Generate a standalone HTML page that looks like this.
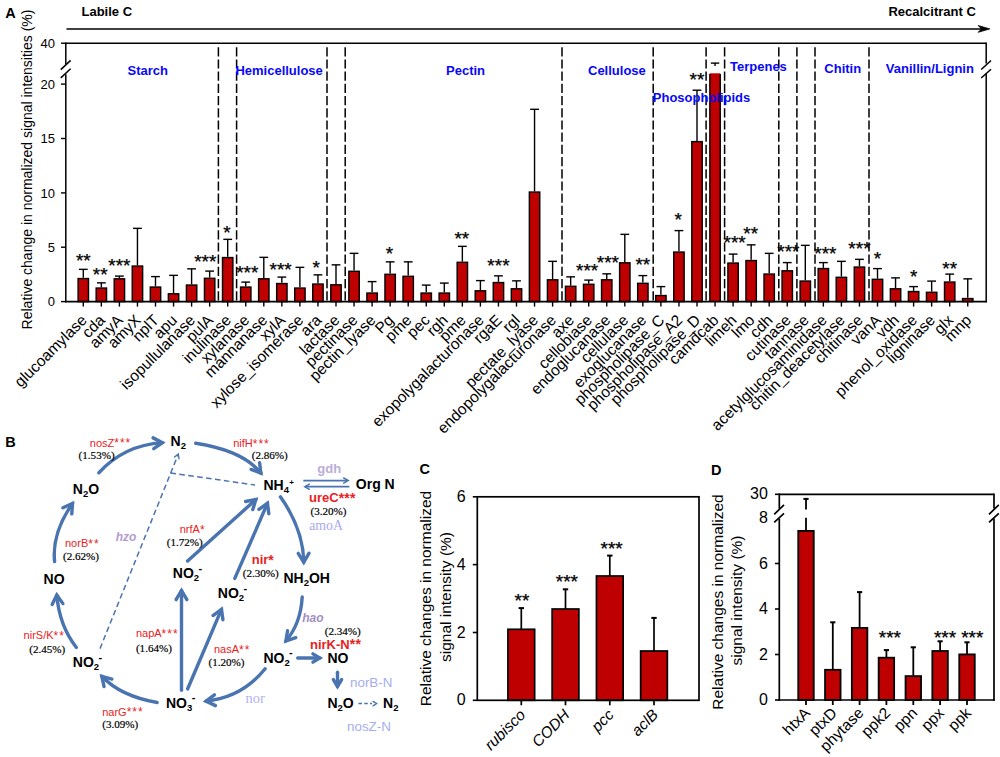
<!DOCTYPE html>
<html><head><meta charset="utf-8"><title>Figure</title>
<style>
html,body{margin:0;padding:0;background:#fff;}
body{width:1000px;height:757px;overflow:hidden;font-family:"Liberation Sans",sans-serif;}
svg{display:block;}
</style></head>
<body>
<svg width="1000" height="757" viewBox="0 0 1000 757" font-family="'Liberation Sans', sans-serif">
<rect width="1000" height="757" fill="#fff"/>
<g id="panelA">
<line x1="66.50" y1="28.90" x2="986.00" y2="28.90" stroke="#000" stroke-width="1.5" />
<path d="M989.8 28.9 L978.2 25.5 L981.4 28.9 L978.2 32.3 Z" fill="#000" stroke="#000" stroke-width="0.8" stroke-linejoin="miter"/>
<text x="81.50" y="15.60" font-size="13" text-anchor="start" font-weight="bold" fill="#000" font-family="'Liberation Sans', sans-serif" font-style="normal" >Labile C</text>
<text x="975.80" y="15.60" font-size="13" text-anchor="end" font-weight="bold" fill="#000" font-family="'Liberation Sans', sans-serif" font-style="normal" >Recalcitrant C</text>
<text x="5.20" y="17.70" font-size="14.5" text-anchor="start" font-weight="bold" fill="#000" font-family="'Liberation Sans', sans-serif" font-style="normal" >A</text>
<line x1="218.40" y1="47.20" x2="218.40" y2="301.60" stroke="#000" stroke-width="1.5" stroke-dasharray="9.2 3"/>
<line x1="236.60" y1="47.20" x2="236.60" y2="301.60" stroke="#000" stroke-width="1.5" stroke-dasharray="9.2 3"/>
<line x1="327.00" y1="47.20" x2="327.00" y2="301.60" stroke="#000" stroke-width="1.5" stroke-dasharray="9.2 3"/>
<line x1="345.20" y1="47.20" x2="345.20" y2="301.60" stroke="#000" stroke-width="1.5" stroke-dasharray="9.2 3"/>
<line x1="562.00" y1="47.20" x2="562.00" y2="301.60" stroke="#000" stroke-width="1.5" stroke-dasharray="9.2 3"/>
<line x1="653.20" y1="47.20" x2="653.20" y2="301.60" stroke="#000" stroke-width="1.5" stroke-dasharray="9.2 3"/>
<line x1="706.10" y1="47.20" x2="706.10" y2="301.60" stroke="#000" stroke-width="1.5" stroke-dasharray="9.2 3"/>
<line x1="724.60" y1="47.20" x2="724.60" y2="301.60" stroke="#000" stroke-width="1.5" stroke-dasharray="9.2 3"/>
<line x1="778.80" y1="47.20" x2="778.80" y2="301.60" stroke="#000" stroke-width="1.5" stroke-dasharray="9.2 3"/>
<line x1="796.90" y1="47.20" x2="796.90" y2="301.60" stroke="#000" stroke-width="1.5" stroke-dasharray="9.2 3"/>
<line x1="815.00" y1="47.20" x2="815.00" y2="301.60" stroke="#000" stroke-width="1.5" stroke-dasharray="9.2 3"/>
<line x1="869.00" y1="47.20" x2="869.00" y2="301.60" stroke="#000" stroke-width="1.5" stroke-dasharray="9.2 3"/>
<line x1="83.30" y1="269.35" x2="83.30" y2="277.85" stroke="#000" stroke-width="1.4" />
<line x1="78.90" y1="269.35" x2="87.70" y2="269.35" stroke="#000" stroke-width="1.4" />
<rect x="78.10" y="278.55" width="10.4" height="23.05" fill="#be0000" stroke="#000" stroke-width="1.4"/>
<line x1="83.30" y1="301.60" x2="83.30" y2="306.60" stroke="#000" stroke-width="1.4" />
<text x="83.30" y="267.03" font-size="19" text-anchor="middle" font-weight="normal" fill="#000" font-family="'Liberation Sans', sans-serif" font-style="normal" stroke="#000" stroke-width="0.25">**</text>
<text x="87.80" y="321.10" font-size="15.5" text-anchor="end" font-weight="normal" fill="#000" font-family="'Liberation Sans', sans-serif" font-style="normal" transform="rotate(-45 87.80 321.10)" >glucoamylase</text>
<line x1="101.35" y1="282.85" x2="101.35" y2="287.35" stroke="#000" stroke-width="1.4" />
<line x1="96.95" y1="282.85" x2="105.75" y2="282.85" stroke="#000" stroke-width="1.4" />
<rect x="96.15" y="288.05" width="10.4" height="13.55" fill="#be0000" stroke="#000" stroke-width="1.4"/>
<line x1="101.35" y1="301.60" x2="101.35" y2="306.60" stroke="#000" stroke-width="1.4" />
<text x="100.15" y="281.28" font-size="19" text-anchor="middle" font-weight="normal" fill="#000" font-family="'Liberation Sans', sans-serif" font-style="normal" stroke="#000" stroke-width="0.25">**</text>
<text x="105.85" y="321.10" font-size="15.5" text-anchor="end" font-weight="normal" fill="#000" font-family="'Liberation Sans', sans-serif" font-style="normal" transform="rotate(-45 105.85 321.10)" >cda</text>
<line x1="119.40" y1="276.10" x2="119.40" y2="278.10" stroke="#000" stroke-width="1.4" />
<line x1="115.00" y1="276.10" x2="123.80" y2="276.10" stroke="#000" stroke-width="1.4" />
<rect x="114.20" y="278.80" width="10.4" height="22.80" fill="#be0000" stroke="#000" stroke-width="1.4"/>
<line x1="119.40" y1="301.60" x2="119.40" y2="306.60" stroke="#000" stroke-width="1.4" />
<text x="119.40" y="272.03" font-size="19" text-anchor="middle" font-weight="normal" fill="#000" font-family="'Liberation Sans', sans-serif" font-style="normal" stroke="#000" stroke-width="0.25">***</text>
<text x="123.90" y="321.10" font-size="15.5" text-anchor="end" font-weight="normal" fill="#000" font-family="'Liberation Sans', sans-serif" font-style="normal" transform="rotate(-45 123.90 321.10)" >amyA</text>
<line x1="137.45" y1="228.35" x2="137.45" y2="265.35" stroke="#000" stroke-width="1.4" />
<line x1="133.05" y1="228.35" x2="141.85" y2="228.35" stroke="#000" stroke-width="1.4" />
<rect x="132.25" y="266.05" width="10.4" height="35.55" fill="#be0000" stroke="#000" stroke-width="1.4"/>
<line x1="137.45" y1="301.60" x2="137.45" y2="306.60" stroke="#000" stroke-width="1.4" />
<text x="141.95" y="321.10" font-size="15.5" text-anchor="end" font-weight="normal" fill="#000" font-family="'Liberation Sans', sans-serif" font-style="normal" transform="rotate(-45 141.95 321.10)" >amyX</text>
<line x1="155.50" y1="276.60" x2="155.50" y2="286.35" stroke="#000" stroke-width="1.4" />
<line x1="151.10" y1="276.60" x2="159.90" y2="276.60" stroke="#000" stroke-width="1.4" />
<rect x="150.30" y="287.05" width="10.4" height="14.55" fill="#be0000" stroke="#000" stroke-width="1.4"/>
<line x1="155.50" y1="301.60" x2="155.50" y2="306.60" stroke="#000" stroke-width="1.4" />
<text x="160.00" y="321.10" font-size="15.5" text-anchor="end" font-weight="normal" fill="#000" font-family="'Liberation Sans', sans-serif" font-style="normal" transform="rotate(-45 160.00 321.10)" >nplT</text>
<line x1="173.55" y1="275.35" x2="173.55" y2="293.10" stroke="#000" stroke-width="1.4" />
<line x1="169.15" y1="275.35" x2="177.95" y2="275.35" stroke="#000" stroke-width="1.4" />
<rect x="168.35" y="293.80" width="10.4" height="7.80" fill="#be0000" stroke="#000" stroke-width="1.4"/>
<line x1="173.55" y1="301.60" x2="173.55" y2="306.60" stroke="#000" stroke-width="1.4" />
<text x="178.05" y="321.10" font-size="15.5" text-anchor="end" font-weight="normal" fill="#000" font-family="'Liberation Sans', sans-serif" font-style="normal" transform="rotate(-45 178.05 321.10)" >apu</text>
<line x1="191.60" y1="268.85" x2="191.60" y2="284.35" stroke="#000" stroke-width="1.4" />
<line x1="187.20" y1="268.85" x2="196.00" y2="268.85" stroke="#000" stroke-width="1.4" />
<rect x="186.40" y="285.05" width="10.4" height="16.55" fill="#be0000" stroke="#000" stroke-width="1.4"/>
<line x1="191.60" y1="301.60" x2="191.60" y2="306.60" stroke="#000" stroke-width="1.4" />
<text x="196.10" y="321.10" font-size="15.5" text-anchor="end" font-weight="normal" fill="#000" font-family="'Liberation Sans', sans-serif" font-style="normal" transform="rotate(-45 196.10 321.10)" >isopullulanase</text>
<line x1="209.65" y1="271.10" x2="209.65" y2="277.60" stroke="#000" stroke-width="1.4" />
<line x1="205.25" y1="271.10" x2="214.05" y2="271.10" stroke="#000" stroke-width="1.4" />
<rect x="204.45" y="278.30" width="10.4" height="23.30" fill="#be0000" stroke="#000" stroke-width="1.4"/>
<line x1="209.65" y1="301.60" x2="209.65" y2="306.60" stroke="#000" stroke-width="1.4" />
<text x="205.25" y="267.78" font-size="19" text-anchor="middle" font-weight="normal" fill="#000" font-family="'Liberation Sans', sans-serif" font-style="normal" stroke="#000" stroke-width="0.25">***</text>
<text x="214.15" y="321.10" font-size="15.5" text-anchor="end" font-weight="normal" fill="#000" font-family="'Liberation Sans', sans-serif" font-style="normal" transform="rotate(-45 214.15 321.10)" >pulA</text>
<line x1="227.70" y1="239.35" x2="227.70" y2="256.85" stroke="#000" stroke-width="1.4" />
<line x1="223.30" y1="239.35" x2="232.10" y2="239.35" stroke="#000" stroke-width="1.4" />
<rect x="222.50" y="257.55" width="10.4" height="44.05" fill="#be0000" stroke="#000" stroke-width="1.4"/>
<line x1="227.70" y1="301.60" x2="227.70" y2="306.60" stroke="#000" stroke-width="1.4" />
<text x="226.90" y="238.78" font-size="19" text-anchor="middle" font-weight="normal" fill="#000" font-family="'Liberation Sans', sans-serif" font-style="normal" stroke="#000" stroke-width="0.25">*</text>
<text x="232.20" y="321.10" font-size="15.5" text-anchor="end" font-weight="normal" fill="#000" font-family="'Liberation Sans', sans-serif" font-style="normal" transform="rotate(-45 232.20 321.10)" >inulinase</text>
<line x1="245.75" y1="282.10" x2="245.75" y2="286.35" stroke="#000" stroke-width="1.4" />
<line x1="241.35" y1="282.10" x2="250.15" y2="282.10" stroke="#000" stroke-width="1.4" />
<rect x="240.55" y="287.05" width="10.4" height="14.55" fill="#be0000" stroke="#000" stroke-width="1.4"/>
<line x1="245.75" y1="301.60" x2="245.75" y2="306.60" stroke="#000" stroke-width="1.4" />
<text x="247.25" y="278.78" font-size="19" text-anchor="middle" font-weight="normal" fill="#000" font-family="'Liberation Sans', sans-serif" font-style="normal" stroke="#000" stroke-width="0.25">***</text>
<text x="250.25" y="321.10" font-size="15.5" text-anchor="end" font-weight="normal" fill="#000" font-family="'Liberation Sans', sans-serif" font-style="normal" transform="rotate(-45 250.25 321.10)" >xylanase</text>
<line x1="263.80" y1="257.35" x2="263.80" y2="278.10" stroke="#000" stroke-width="1.4" />
<line x1="259.40" y1="257.35" x2="268.20" y2="257.35" stroke="#000" stroke-width="1.4" />
<rect x="258.60" y="278.80" width="10.4" height="22.80" fill="#be0000" stroke="#000" stroke-width="1.4"/>
<line x1="263.80" y1="301.60" x2="263.80" y2="306.60" stroke="#000" stroke-width="1.4" />
<text x="268.30" y="321.10" font-size="15.5" text-anchor="end" font-weight="normal" fill="#000" font-family="'Liberation Sans', sans-serif" font-style="normal" transform="rotate(-45 268.30 321.10)" >mannanase</text>
<line x1="281.85" y1="277.10" x2="281.85" y2="282.85" stroke="#000" stroke-width="1.4" />
<line x1="277.45" y1="277.10" x2="286.25" y2="277.10" stroke="#000" stroke-width="1.4" />
<rect x="276.65" y="283.55" width="10.4" height="18.05" fill="#be0000" stroke="#000" stroke-width="1.4"/>
<line x1="281.85" y1="301.60" x2="281.85" y2="306.60" stroke="#000" stroke-width="1.4" />
<text x="280.65" y="276.28" font-size="19" text-anchor="middle" font-weight="normal" fill="#000" font-family="'Liberation Sans', sans-serif" font-style="normal" stroke="#000" stroke-width="0.25">***</text>
<text x="286.35" y="321.10" font-size="15.5" text-anchor="end" font-weight="normal" fill="#000" font-family="'Liberation Sans', sans-serif" font-style="normal" transform="rotate(-45 286.35 321.10)" >xylA</text>
<line x1="299.90" y1="267.35" x2="299.90" y2="287.35" stroke="#000" stroke-width="1.4" />
<line x1="295.50" y1="267.35" x2="304.30" y2="267.35" stroke="#000" stroke-width="1.4" />
<rect x="294.70" y="288.05" width="10.4" height="13.55" fill="#be0000" stroke="#000" stroke-width="1.4"/>
<line x1="299.90" y1="301.60" x2="299.90" y2="306.60" stroke="#000" stroke-width="1.4" />
<text x="304.40" y="321.10" font-size="15.5" text-anchor="end" font-weight="normal" fill="#000" font-family="'Liberation Sans', sans-serif" font-style="normal" transform="rotate(-45 304.40 321.10)" >xylose_isomerase</text>
<line x1="317.95" y1="274.85" x2="317.95" y2="283.35" stroke="#000" stroke-width="1.4" />
<line x1="313.55" y1="274.85" x2="322.35" y2="274.85" stroke="#000" stroke-width="1.4" />
<rect x="312.75" y="284.05" width="10.4" height="17.55" fill="#be0000" stroke="#000" stroke-width="1.4"/>
<line x1="317.95" y1="301.60" x2="317.95" y2="306.60" stroke="#000" stroke-width="1.4" />
<text x="316.15" y="274.03" font-size="19" text-anchor="middle" font-weight="normal" fill="#000" font-family="'Liberation Sans', sans-serif" font-style="normal" stroke="#000" stroke-width="0.25">*</text>
<text x="322.45" y="321.10" font-size="15.5" text-anchor="end" font-weight="normal" fill="#000" font-family="'Liberation Sans', sans-serif" font-style="normal" transform="rotate(-45 322.45 321.10)" >ara</text>
<line x1="336.00" y1="264.85" x2="336.00" y2="284.10" stroke="#000" stroke-width="1.4" />
<line x1="331.60" y1="264.85" x2="340.40" y2="264.85" stroke="#000" stroke-width="1.4" />
<rect x="330.80" y="284.80" width="10.4" height="16.80" fill="#be0000" stroke="#000" stroke-width="1.4"/>
<line x1="336.00" y1="301.60" x2="336.00" y2="306.60" stroke="#000" stroke-width="1.4" />
<text x="340.50" y="321.10" font-size="15.5" text-anchor="end" font-weight="normal" fill="#000" font-family="'Liberation Sans', sans-serif" font-style="normal" transform="rotate(-45 340.50 321.10)" >lactase</text>
<line x1="354.05" y1="253.35" x2="354.05" y2="270.60" stroke="#000" stroke-width="1.4" />
<line x1="349.65" y1="253.35" x2="358.45" y2="253.35" stroke="#000" stroke-width="1.4" />
<rect x="348.85" y="271.30" width="10.4" height="30.30" fill="#be0000" stroke="#000" stroke-width="1.4"/>
<line x1="354.05" y1="301.60" x2="354.05" y2="306.60" stroke="#000" stroke-width="1.4" />
<text x="358.55" y="321.10" font-size="15.5" text-anchor="end" font-weight="normal" fill="#000" font-family="'Liberation Sans', sans-serif" font-style="normal" transform="rotate(-45 358.55 321.10)" >pectinase</text>
<line x1="372.10" y1="281.60" x2="372.10" y2="292.35" stroke="#000" stroke-width="1.4" />
<line x1="367.70" y1="281.60" x2="376.50" y2="281.60" stroke="#000" stroke-width="1.4" />
<rect x="366.90" y="293.05" width="10.4" height="8.55" fill="#be0000" stroke="#000" stroke-width="1.4"/>
<line x1="372.10" y1="301.60" x2="372.10" y2="306.60" stroke="#000" stroke-width="1.4" />
<text x="376.60" y="321.10" font-size="15.5" text-anchor="end" font-weight="normal" fill="#000" font-family="'Liberation Sans', sans-serif" font-style="normal" transform="rotate(-45 376.60 321.10)" >pectin_lyase</text>
<line x1="390.15" y1="261.85" x2="390.15" y2="273.60" stroke="#000" stroke-width="1.4" />
<line x1="385.75" y1="261.85" x2="394.55" y2="261.85" stroke="#000" stroke-width="1.4" />
<rect x="384.95" y="274.30" width="10.4" height="27.30" fill="#be0000" stroke="#000" stroke-width="1.4"/>
<line x1="390.15" y1="301.60" x2="390.15" y2="306.60" stroke="#000" stroke-width="1.4" />
<text x="389.35" y="259.53" font-size="19" text-anchor="middle" font-weight="normal" fill="#000" font-family="'Liberation Sans', sans-serif" font-style="normal" stroke="#000" stroke-width="0.25">*</text>
<text x="394.65" y="321.10" font-size="15.5" text-anchor="end" font-weight="normal" fill="#000" font-family="'Liberation Sans', sans-serif" font-style="normal" transform="rotate(-45 394.65 321.10)" >Pg</text>
<line x1="408.20" y1="261.85" x2="408.20" y2="275.60" stroke="#000" stroke-width="1.4" />
<line x1="403.80" y1="261.85" x2="412.60" y2="261.85" stroke="#000" stroke-width="1.4" />
<rect x="403.00" y="276.30" width="10.4" height="25.30" fill="#be0000" stroke="#000" stroke-width="1.4"/>
<line x1="408.20" y1="301.60" x2="408.20" y2="306.60" stroke="#000" stroke-width="1.4" />
<text x="412.70" y="321.10" font-size="15.5" text-anchor="end" font-weight="normal" fill="#000" font-family="'Liberation Sans', sans-serif" font-style="normal" transform="rotate(-45 412.70 321.10)" >pme</text>
<line x1="426.25" y1="285.10" x2="426.25" y2="292.35" stroke="#000" stroke-width="1.4" />
<line x1="421.85" y1="285.10" x2="430.65" y2="285.10" stroke="#000" stroke-width="1.4" />
<rect x="421.05" y="293.05" width="10.4" height="8.55" fill="#be0000" stroke="#000" stroke-width="1.4"/>
<line x1="426.25" y1="301.60" x2="426.25" y2="306.60" stroke="#000" stroke-width="1.4" />
<text x="430.75" y="321.10" font-size="15.5" text-anchor="end" font-weight="normal" fill="#000" font-family="'Liberation Sans', sans-serif" font-style="normal" transform="rotate(-45 430.75 321.10)" >pec</text>
<line x1="444.30" y1="283.10" x2="444.30" y2="292.35" stroke="#000" stroke-width="1.4" />
<line x1="439.90" y1="283.10" x2="448.70" y2="283.10" stroke="#000" stroke-width="1.4" />
<rect x="439.10" y="293.05" width="10.4" height="8.55" fill="#be0000" stroke="#000" stroke-width="1.4"/>
<line x1="444.30" y1="301.60" x2="444.30" y2="306.60" stroke="#000" stroke-width="1.4" />
<text x="448.80" y="321.10" font-size="15.5" text-anchor="end" font-weight="normal" fill="#000" font-family="'Liberation Sans', sans-serif" font-style="normal" transform="rotate(-45 448.80 321.10)" >rgh</text>
<line x1="462.35" y1="246.35" x2="462.35" y2="261.60" stroke="#000" stroke-width="1.4" />
<line x1="457.95" y1="246.35" x2="466.75" y2="246.35" stroke="#000" stroke-width="1.4" />
<rect x="457.15" y="262.30" width="10.4" height="39.30" fill="#be0000" stroke="#000" stroke-width="1.4"/>
<line x1="462.35" y1="301.60" x2="462.35" y2="306.60" stroke="#000" stroke-width="1.4" />
<text x="461.85" y="244.53" font-size="19" text-anchor="middle" font-weight="normal" fill="#000" font-family="'Liberation Sans', sans-serif" font-style="normal" stroke="#000" stroke-width="0.25">**</text>
<text x="466.85" y="321.10" font-size="15.5" text-anchor="end" font-weight="normal" fill="#000" font-family="'Liberation Sans', sans-serif" font-style="normal" transform="rotate(-45 466.85 321.10)" >pme</text>
<line x1="480.40" y1="280.60" x2="480.40" y2="290.10" stroke="#000" stroke-width="1.4" />
<line x1="476.00" y1="280.60" x2="484.80" y2="280.60" stroke="#000" stroke-width="1.4" />
<rect x="475.20" y="290.80" width="10.4" height="10.80" fill="#be0000" stroke="#000" stroke-width="1.4"/>
<line x1="480.40" y1="301.60" x2="480.40" y2="306.60" stroke="#000" stroke-width="1.4" />
<text x="484.90" y="321.10" font-size="15.5" text-anchor="end" font-weight="normal" fill="#000" font-family="'Liberation Sans', sans-serif" font-style="normal" transform="rotate(-45 484.90 321.10)" >exopolygalacturonase</text>
<line x1="498.45" y1="275.85" x2="498.45" y2="281.85" stroke="#000" stroke-width="1.4" />
<line x1="494.05" y1="275.85" x2="502.85" y2="275.85" stroke="#000" stroke-width="1.4" />
<rect x="493.25" y="282.55" width="10.4" height="19.05" fill="#be0000" stroke="#000" stroke-width="1.4"/>
<line x1="498.45" y1="301.60" x2="498.45" y2="306.60" stroke="#000" stroke-width="1.4" />
<text x="498.45" y="271.53" font-size="19" text-anchor="middle" font-weight="normal" fill="#000" font-family="'Liberation Sans', sans-serif" font-style="normal" stroke="#000" stroke-width="0.25">***</text>
<text x="502.95" y="321.10" font-size="15.5" text-anchor="end" font-weight="normal" fill="#000" font-family="'Liberation Sans', sans-serif" font-style="normal" transform="rotate(-45 502.95 321.10)" >rgaE</text>
<line x1="516.50" y1="280.85" x2="516.50" y2="288.10" stroke="#000" stroke-width="1.4" />
<line x1="512.10" y1="280.85" x2="520.90" y2="280.85" stroke="#000" stroke-width="1.4" />
<rect x="511.30" y="288.80" width="10.4" height="12.80" fill="#be0000" stroke="#000" stroke-width="1.4"/>
<line x1="516.50" y1="301.60" x2="516.50" y2="306.60" stroke="#000" stroke-width="1.4" />
<text x="521.00" y="321.10" font-size="15.5" text-anchor="end" font-weight="normal" fill="#000" font-family="'Liberation Sans', sans-serif" font-style="normal" transform="rotate(-45 521.00 321.10)" >rgl</text>
<line x1="534.55" y1="109.30" x2="534.55" y2="191.35" stroke="#000" stroke-width="1.4" />
<line x1="530.15" y1="109.30" x2="538.95" y2="109.30" stroke="#000" stroke-width="1.4" />
<rect x="529.35" y="192.05" width="10.4" height="109.55" fill="#be0000" stroke="#000" stroke-width="1.4"/>
<line x1="534.55" y1="301.60" x2="534.55" y2="306.60" stroke="#000" stroke-width="1.4" />
<text x="539.05" y="321.10" font-size="15.5" text-anchor="end" font-weight="normal" fill="#000" font-family="'Liberation Sans', sans-serif" font-style="normal" transform="rotate(-45 539.05 321.10)" >pectate_lyase</text>
<line x1="552.60" y1="261.35" x2="552.60" y2="279.10" stroke="#000" stroke-width="1.4" />
<line x1="548.20" y1="261.35" x2="557.00" y2="261.35" stroke="#000" stroke-width="1.4" />
<rect x="547.40" y="279.80" width="10.4" height="21.80" fill="#be0000" stroke="#000" stroke-width="1.4"/>
<line x1="552.60" y1="301.60" x2="552.60" y2="306.60" stroke="#000" stroke-width="1.4" />
<text x="557.10" y="321.10" font-size="15.5" text-anchor="end" font-weight="normal" fill="#000" font-family="'Liberation Sans', sans-serif" font-style="normal" transform="rotate(-45 557.10 321.10)" >endopolygalacturonase</text>
<line x1="570.65" y1="276.85" x2="570.65" y2="285.60" stroke="#000" stroke-width="1.4" />
<line x1="566.25" y1="276.85" x2="575.05" y2="276.85" stroke="#000" stroke-width="1.4" />
<rect x="565.45" y="286.30" width="10.4" height="15.30" fill="#be0000" stroke="#000" stroke-width="1.4"/>
<line x1="570.65" y1="301.60" x2="570.65" y2="306.60" stroke="#000" stroke-width="1.4" />
<text x="575.15" y="321.10" font-size="15.5" text-anchor="end" font-weight="normal" fill="#000" font-family="'Liberation Sans', sans-serif" font-style="normal" transform="rotate(-45 575.15 321.10)" >axe</text>
<line x1="588.70" y1="280.10" x2="588.70" y2="283.60" stroke="#000" stroke-width="1.4" />
<line x1="584.30" y1="280.10" x2="593.10" y2="280.10" stroke="#000" stroke-width="1.4" />
<rect x="583.50" y="284.30" width="10.4" height="17.30" fill="#be0000" stroke="#000" stroke-width="1.4"/>
<line x1="588.70" y1="301.60" x2="588.70" y2="306.60" stroke="#000" stroke-width="1.4" />
<text x="587.10" y="277.03" font-size="19" text-anchor="middle" font-weight="normal" fill="#000" font-family="'Liberation Sans', sans-serif" font-style="normal" stroke="#000" stroke-width="0.25">***</text>
<text x="593.20" y="321.10" font-size="15.5" text-anchor="end" font-weight="normal" fill="#000" font-family="'Liberation Sans', sans-serif" font-style="normal" transform="rotate(-45 593.20 321.10)" >cellobiase</text>
<line x1="606.75" y1="273.85" x2="606.75" y2="279.10" stroke="#000" stroke-width="1.4" />
<line x1="602.35" y1="273.85" x2="611.15" y2="273.85" stroke="#000" stroke-width="1.4" />
<rect x="601.55" y="279.80" width="10.4" height="21.80" fill="#be0000" stroke="#000" stroke-width="1.4"/>
<line x1="606.75" y1="301.60" x2="606.75" y2="306.60" stroke="#000" stroke-width="1.4" />
<text x="607.85" y="268.78" font-size="19" text-anchor="middle" font-weight="normal" fill="#000" font-family="'Liberation Sans', sans-serif" font-style="normal" stroke="#000" stroke-width="0.25">***</text>
<text x="611.25" y="321.10" font-size="15.5" text-anchor="end" font-weight="normal" fill="#000" font-family="'Liberation Sans', sans-serif" font-style="normal" transform="rotate(-45 611.25 321.10)" >endoglucanase</text>
<line x1="624.80" y1="234.35" x2="624.80" y2="262.10" stroke="#000" stroke-width="1.4" />
<line x1="620.40" y1="234.35" x2="629.20" y2="234.35" stroke="#000" stroke-width="1.4" />
<rect x="619.60" y="262.80" width="10.4" height="38.80" fill="#be0000" stroke="#000" stroke-width="1.4"/>
<line x1="624.80" y1="301.60" x2="624.80" y2="306.60" stroke="#000" stroke-width="1.4" />
<text x="629.30" y="321.10" font-size="15.5" text-anchor="end" font-weight="normal" fill="#000" font-family="'Liberation Sans', sans-serif" font-style="normal" transform="rotate(-45 629.30 321.10)" >cellulase</text>
<line x1="642.85" y1="275.60" x2="642.85" y2="282.60" stroke="#000" stroke-width="1.4" />
<line x1="638.45" y1="275.60" x2="647.25" y2="275.60" stroke="#000" stroke-width="1.4" />
<rect x="637.65" y="283.30" width="10.4" height="18.30" fill="#be0000" stroke="#000" stroke-width="1.4"/>
<line x1="642.85" y1="301.60" x2="642.85" y2="306.60" stroke="#000" stroke-width="1.4" />
<text x="642.85" y="270.53" font-size="19" text-anchor="middle" font-weight="normal" fill="#000" font-family="'Liberation Sans', sans-serif" font-style="normal" stroke="#000" stroke-width="0.25">**</text>
<text x="647.35" y="321.10" font-size="15.5" text-anchor="end" font-weight="normal" fill="#000" font-family="'Liberation Sans', sans-serif" font-style="normal" transform="rotate(-45 647.35 321.10)" >exoglucanase</text>
<line x1="660.90" y1="286.60" x2="660.90" y2="294.85" stroke="#000" stroke-width="1.4" />
<line x1="656.50" y1="286.60" x2="665.30" y2="286.60" stroke="#000" stroke-width="1.4" />
<rect x="655.70" y="295.55" width="10.4" height="6.05" fill="#be0000" stroke="#000" stroke-width="1.4"/>
<line x1="660.90" y1="301.60" x2="660.90" y2="306.60" stroke="#000" stroke-width="1.4" />
<text x="665.40" y="321.10" font-size="15.5" text-anchor="end" font-weight="normal" fill="#000" font-family="'Liberation Sans', sans-serif" font-style="normal" transform="rotate(-45 665.40 321.10)" >phospholipase_C</text>
<line x1="678.95" y1="230.60" x2="678.95" y2="251.35" stroke="#000" stroke-width="1.4" />
<line x1="674.55" y1="230.60" x2="683.35" y2="230.60" stroke="#000" stroke-width="1.4" />
<rect x="673.75" y="252.05" width="10.4" height="49.55" fill="#be0000" stroke="#000" stroke-width="1.4"/>
<line x1="678.95" y1="301.60" x2="678.95" y2="306.60" stroke="#000" stroke-width="1.4" />
<text x="678.15" y="226.03" font-size="19" text-anchor="middle" font-weight="normal" fill="#000" font-family="'Liberation Sans', sans-serif" font-style="normal" stroke="#000" stroke-width="0.25">*</text>
<text x="683.45" y="321.10" font-size="15.5" text-anchor="end" font-weight="normal" fill="#000" font-family="'Liberation Sans', sans-serif" font-style="normal" transform="rotate(-45 683.45 321.10)" >phospholipase_A2</text>
<line x1="697.00" y1="90.20" x2="697.00" y2="140.90" stroke="#000" stroke-width="1.4" />
<line x1="692.60" y1="90.20" x2="701.40" y2="90.20" stroke="#000" stroke-width="1.4" />
<rect x="691.80" y="141.60" width="10.4" height="160.00" fill="#be0000" stroke="#000" stroke-width="1.4"/>
<line x1="697.00" y1="301.60" x2="697.00" y2="306.60" stroke="#000" stroke-width="1.4" />
<text x="697.00" y="86.03" font-size="19" text-anchor="middle" font-weight="normal" fill="#000" font-family="'Liberation Sans', sans-serif" font-style="normal" stroke="#000" stroke-width="0.25">**</text>
<text x="701.50" y="321.10" font-size="15.5" text-anchor="end" font-weight="normal" fill="#000" font-family="'Liberation Sans', sans-serif" font-style="normal" transform="rotate(-45 701.50 321.10)" >phospholipase_D</text>
<line x1="715.05" y1="63.10" x2="715.05" y2="66.10" stroke="#000" stroke-width="1.4" />
<line x1="710.85" y1="63.10" x2="719.25" y2="63.10" stroke="#000" stroke-width="1.4" />
<rect x="709.85" y="73.30" width="10.4" height="228.30" fill="#be0000"/>
<line x1="709.85" y1="73.90" x2="709.85" y2="301.60" stroke="#000" stroke-width="1.4" />
<line x1="720.25" y1="73.90" x2="720.25" y2="301.60" stroke="#000" stroke-width="1.4" />
<line x1="715.05" y1="301.60" x2="715.05" y2="306.60" stroke="#000" stroke-width="1.4" />
<text x="719.55" y="321.10" font-size="15.5" text-anchor="end" font-weight="normal" fill="#000" font-family="'Liberation Sans', sans-serif" font-style="normal" transform="rotate(-45 719.55 321.10)" >camdcab</text>
<line x1="733.10" y1="254.10" x2="733.10" y2="262.35" stroke="#000" stroke-width="1.4" />
<line x1="728.70" y1="254.10" x2="737.50" y2="254.10" stroke="#000" stroke-width="1.4" />
<rect x="727.90" y="263.05" width="10.4" height="38.55" fill="#be0000" stroke="#000" stroke-width="1.4"/>
<line x1="733.10" y1="301.60" x2="733.10" y2="306.60" stroke="#000" stroke-width="1.4" />
<text x="734.60" y="248.78" font-size="19" text-anchor="middle" font-weight="normal" fill="#000" font-family="'Liberation Sans', sans-serif" font-style="normal" stroke="#000" stroke-width="0.25">***</text>
<text x="737.60" y="321.10" font-size="15.5" text-anchor="end" font-weight="normal" fill="#000" font-family="'Liberation Sans', sans-serif" font-style="normal" transform="rotate(-45 737.60 321.10)" >limeh</text>
<line x1="751.15" y1="244.85" x2="751.15" y2="259.85" stroke="#000" stroke-width="1.4" />
<line x1="746.75" y1="244.85" x2="755.55" y2="244.85" stroke="#000" stroke-width="1.4" />
<rect x="745.95" y="260.55" width="10.4" height="41.05" fill="#be0000" stroke="#000" stroke-width="1.4"/>
<line x1="751.15" y1="301.60" x2="751.15" y2="306.60" stroke="#000" stroke-width="1.4" />
<text x="750.65" y="239.53" font-size="19" text-anchor="middle" font-weight="normal" fill="#000" font-family="'Liberation Sans', sans-serif" font-style="normal" stroke="#000" stroke-width="0.25">**</text>
<text x="755.65" y="321.10" font-size="15.5" text-anchor="end" font-weight="normal" fill="#000" font-family="'Liberation Sans', sans-serif" font-style="normal" transform="rotate(-45 755.65 321.10)" >lmo</text>
<line x1="769.20" y1="253.35" x2="769.20" y2="273.35" stroke="#000" stroke-width="1.4" />
<line x1="764.80" y1="253.35" x2="773.60" y2="253.35" stroke="#000" stroke-width="1.4" />
<rect x="764.00" y="274.05" width="10.4" height="27.55" fill="#be0000" stroke="#000" stroke-width="1.4"/>
<line x1="769.20" y1="301.60" x2="769.20" y2="306.60" stroke="#000" stroke-width="1.4" />
<text x="773.70" y="321.10" font-size="15.5" text-anchor="end" font-weight="normal" fill="#000" font-family="'Liberation Sans', sans-serif" font-style="normal" transform="rotate(-45 773.70 321.10)" >cdh</text>
<line x1="787.25" y1="262.60" x2="787.25" y2="270.10" stroke="#000" stroke-width="1.4" />
<line x1="782.85" y1="262.60" x2="791.65" y2="262.60" stroke="#000" stroke-width="1.4" />
<rect x="782.05" y="270.80" width="10.4" height="30.80" fill="#be0000" stroke="#000" stroke-width="1.4"/>
<line x1="787.25" y1="301.60" x2="787.25" y2="306.60" stroke="#000" stroke-width="1.4" />
<text x="788.35" y="258.28" font-size="19" text-anchor="middle" font-weight="normal" fill="#000" font-family="'Liberation Sans', sans-serif" font-style="normal" stroke="#000" stroke-width="0.25">***</text>
<text x="791.75" y="321.10" font-size="15.5" text-anchor="end" font-weight="normal" fill="#000" font-family="'Liberation Sans', sans-serif" font-style="normal" transform="rotate(-45 791.75 321.10)" >cutinase</text>
<line x1="805.30" y1="245.35" x2="805.30" y2="280.35" stroke="#000" stroke-width="1.4" />
<line x1="800.90" y1="245.35" x2="809.70" y2="245.35" stroke="#000" stroke-width="1.4" />
<rect x="800.10" y="281.05" width="10.4" height="20.55" fill="#be0000" stroke="#000" stroke-width="1.4"/>
<line x1="805.30" y1="301.60" x2="805.30" y2="306.60" stroke="#000" stroke-width="1.4" />
<text x="809.80" y="321.10" font-size="15.5" text-anchor="end" font-weight="normal" fill="#000" font-family="'Liberation Sans', sans-serif" font-style="normal" transform="rotate(-45 809.80 321.10)" >tannase</text>
<line x1="823.35" y1="262.60" x2="823.35" y2="267.85" stroke="#000" stroke-width="1.4" />
<line x1="818.95" y1="262.60" x2="827.75" y2="262.60" stroke="#000" stroke-width="1.4" />
<rect x="818.15" y="268.55" width="10.4" height="33.05" fill="#be0000" stroke="#000" stroke-width="1.4"/>
<line x1="823.35" y1="301.60" x2="823.35" y2="306.60" stroke="#000" stroke-width="1.4" />
<text x="825.35" y="259.53" font-size="19" text-anchor="middle" font-weight="normal" fill="#000" font-family="'Liberation Sans', sans-serif" font-style="normal" stroke="#000" stroke-width="0.25">***</text>
<text x="827.85" y="321.10" font-size="15.5" text-anchor="end" font-weight="normal" fill="#000" font-family="'Liberation Sans', sans-serif" font-style="normal" transform="rotate(-45 827.85 321.10)" >acetylglucosaminidase</text>
<line x1="841.40" y1="261.35" x2="841.40" y2="276.60" stroke="#000" stroke-width="1.4" />
<line x1="837.00" y1="261.35" x2="845.80" y2="261.35" stroke="#000" stroke-width="1.4" />
<rect x="836.20" y="277.30" width="10.4" height="24.30" fill="#be0000" stroke="#000" stroke-width="1.4"/>
<line x1="841.40" y1="301.60" x2="841.40" y2="306.60" stroke="#000" stroke-width="1.4" />
<text x="845.90" y="321.10" font-size="15.5" text-anchor="end" font-weight="normal" fill="#000" font-family="'Liberation Sans', sans-serif" font-style="normal" transform="rotate(-45 845.90 321.10)" >chitin_deacetylase</text>
<line x1="859.45" y1="259.35" x2="859.45" y2="266.35" stroke="#000" stroke-width="1.4" />
<line x1="855.05" y1="259.35" x2="863.85" y2="259.35" stroke="#000" stroke-width="1.4" />
<rect x="854.25" y="267.05" width="10.4" height="34.55" fill="#be0000" stroke="#000" stroke-width="1.4"/>
<line x1="859.45" y1="301.60" x2="859.45" y2="306.60" stroke="#000" stroke-width="1.4" />
<text x="859.45" y="255.28" font-size="19" text-anchor="middle" font-weight="normal" fill="#000" font-family="'Liberation Sans', sans-serif" font-style="normal" stroke="#000" stroke-width="0.25">***</text>
<text x="863.95" y="321.10" font-size="15.5" text-anchor="end" font-weight="normal" fill="#000" font-family="'Liberation Sans', sans-serif" font-style="normal" transform="rotate(-45 863.95 321.10)" >chitinase</text>
<line x1="877.50" y1="268.60" x2="877.50" y2="278.60" stroke="#000" stroke-width="1.4" />
<line x1="873.10" y1="268.60" x2="881.90" y2="268.60" stroke="#000" stroke-width="1.4" />
<rect x="872.30" y="279.30" width="10.4" height="22.30" fill="#be0000" stroke="#000" stroke-width="1.4"/>
<line x1="877.50" y1="301.60" x2="877.50" y2="306.60" stroke="#000" stroke-width="1.4" />
<text x="877.50" y="264.53" font-size="19" text-anchor="middle" font-weight="normal" fill="#000" font-family="'Liberation Sans', sans-serif" font-style="normal" stroke="#000" stroke-width="0.25">*</text>
<text x="882.00" y="321.10" font-size="15.5" text-anchor="end" font-weight="normal" fill="#000" font-family="'Liberation Sans', sans-serif" font-style="normal" transform="rotate(-45 882.00 321.10)" >vanA</text>
<line x1="895.55" y1="277.85" x2="895.55" y2="288.10" stroke="#000" stroke-width="1.4" />
<line x1="891.15" y1="277.85" x2="899.95" y2="277.85" stroke="#000" stroke-width="1.4" />
<rect x="890.35" y="288.80" width="10.4" height="12.80" fill="#be0000" stroke="#000" stroke-width="1.4"/>
<line x1="895.55" y1="301.60" x2="895.55" y2="306.60" stroke="#000" stroke-width="1.4" />
<text x="900.05" y="321.10" font-size="15.5" text-anchor="end" font-weight="normal" fill="#000" font-family="'Liberation Sans', sans-serif" font-style="normal" transform="rotate(-45 900.05 321.10)" >vdh</text>
<line x1="913.60" y1="286.60" x2="913.60" y2="290.85" stroke="#000" stroke-width="1.4" />
<line x1="909.20" y1="286.60" x2="918.00" y2="286.60" stroke="#000" stroke-width="1.4" />
<rect x="908.40" y="291.55" width="10.4" height="10.05" fill="#be0000" stroke="#000" stroke-width="1.4"/>
<line x1="913.60" y1="301.60" x2="913.60" y2="306.60" stroke="#000" stroke-width="1.4" />
<text x="913.60" y="282.53" font-size="19" text-anchor="middle" font-weight="normal" fill="#000" font-family="'Liberation Sans', sans-serif" font-style="normal" stroke="#000" stroke-width="0.25">*</text>
<text x="918.10" y="321.10" font-size="15.5" text-anchor="end" font-weight="normal" fill="#000" font-family="'Liberation Sans', sans-serif" font-style="normal" transform="rotate(-45 918.10 321.10)" >phenol_oxidase</text>
<line x1="931.65" y1="281.10" x2="931.65" y2="291.60" stroke="#000" stroke-width="1.4" />
<line x1="927.25" y1="281.10" x2="936.05" y2="281.10" stroke="#000" stroke-width="1.4" />
<rect x="926.45" y="292.30" width="10.4" height="9.30" fill="#be0000" stroke="#000" stroke-width="1.4"/>
<line x1="931.65" y1="301.60" x2="931.65" y2="306.60" stroke="#000" stroke-width="1.4" />
<text x="936.15" y="321.10" font-size="15.5" text-anchor="end" font-weight="normal" fill="#000" font-family="'Liberation Sans', sans-serif" font-style="normal" transform="rotate(-45 936.15 321.10)" >ligninase</text>
<line x1="949.70" y1="274.10" x2="949.70" y2="281.35" stroke="#000" stroke-width="1.4" />
<line x1="945.30" y1="274.10" x2="954.10" y2="274.10" stroke="#000" stroke-width="1.4" />
<rect x="944.50" y="282.05" width="10.4" height="19.55" fill="#be0000" stroke="#000" stroke-width="1.4"/>
<line x1="949.70" y1="301.60" x2="949.70" y2="306.60" stroke="#000" stroke-width="1.4" />
<text x="949.70" y="274.53" font-size="19" text-anchor="middle" font-weight="normal" fill="#000" font-family="'Liberation Sans', sans-serif" font-style="normal" stroke="#000" stroke-width="0.25">**</text>
<text x="954.20" y="321.10" font-size="15.5" text-anchor="end" font-weight="normal" fill="#000" font-family="'Liberation Sans', sans-serif" font-style="normal" transform="rotate(-45 954.20 321.10)" >glx</text>
<line x1="967.75" y1="278.85" x2="967.75" y2="297.85" stroke="#000" stroke-width="1.4" />
<line x1="963.35" y1="278.85" x2="972.15" y2="278.85" stroke="#000" stroke-width="1.4" />
<rect x="962.55" y="298.55" width="10.4" height="3.05" fill="#be0000" stroke="#000" stroke-width="1.4"/>
<line x1="967.75" y1="301.60" x2="967.75" y2="306.60" stroke="#000" stroke-width="1.4" />
<text x="972.25" y="321.10" font-size="15.5" text-anchor="end" font-weight="normal" fill="#000" font-family="'Liberation Sans', sans-serif" font-style="normal" transform="rotate(-45 972.25 321.10)" >mnp</text>
<line x1="65.80" y1="43.20" x2="986.20" y2="43.20" stroke="#000" stroke-width="1.5" />
<line x1="65.80" y1="42.45" x2="65.80" y2="64.20" stroke="#000" stroke-width="1.5" />
<line x1="65.80" y1="74.30" x2="65.80" y2="302.35" stroke="#000" stroke-width="1.5" />
<line x1="986.20" y1="42.45" x2="986.20" y2="63.50" stroke="#000" stroke-width="1.5" />
<line x1="986.20" y1="73.50" x2="986.20" y2="302.35" stroke="#000" stroke-width="1.5" />
<line x1="65.05" y1="301.60" x2="986.95" y2="301.60" stroke="#000" stroke-width="1.6" />
<line x1="60.80" y1="69.60" x2="70.60" y2="60.40" stroke="#000" stroke-width="1.5" />
<line x1="60.80" y1="77.90" x2="70.60" y2="68.70" stroke="#000" stroke-width="1.5" />
<line x1="981.20" y1="69.50" x2="991.00" y2="60.50" stroke="#000" stroke-width="1.5" />
<line x1="981.20" y1="78.00" x2="991.00" y2="69.20" stroke="#000" stroke-width="1.5" />
<line x1="61.00" y1="43.20" x2="65.80" y2="43.20" stroke="#000" stroke-width="1.4" />
<text x="55.00" y="47.80" font-size="13" text-anchor="end" font-weight="normal" fill="#000" font-family="'Liberation Sans', sans-serif" font-style="normal" >40</text>
<line x1="61.00" y1="84.10" x2="65.80" y2="84.10" stroke="#000" stroke-width="1.4" />
<text x="55.00" y="88.70" font-size="13" text-anchor="end" font-weight="normal" fill="#000" font-family="'Liberation Sans', sans-serif" font-style="normal" >20</text>
<line x1="61.00" y1="138.50" x2="65.80" y2="138.50" stroke="#000" stroke-width="1.4" />
<text x="55.00" y="143.10" font-size="13" text-anchor="end" font-weight="normal" fill="#000" font-family="'Liberation Sans', sans-serif" font-style="normal" >15</text>
<line x1="61.00" y1="192.90" x2="65.80" y2="192.90" stroke="#000" stroke-width="1.4" />
<text x="55.00" y="197.50" font-size="13" text-anchor="end" font-weight="normal" fill="#000" font-family="'Liberation Sans', sans-serif" font-style="normal" >10</text>
<line x1="61.00" y1="247.20" x2="65.80" y2="247.20" stroke="#000" stroke-width="1.4" />
<text x="55.00" y="251.80" font-size="13" text-anchor="end" font-weight="normal" fill="#000" font-family="'Liberation Sans', sans-serif" font-style="normal" >5</text>
<line x1="61.00" y1="301.60" x2="65.80" y2="301.60" stroke="#000" stroke-width="1.4" />
<text x="55.00" y="306.20" font-size="13" text-anchor="end" font-weight="normal" fill="#000" font-family="'Liberation Sans', sans-serif" font-style="normal" >0</text>
<text x="31.60" y="329.40" font-size="14" text-anchor="start" font-weight="normal" fill="#000" font-family="'Liberation Sans', sans-serif" font-style="normal" transform="rotate(-90 31.60 329.40)" >Relative change in normalized signal intensities (%)</text>
<text x="127.50" y="74.80" font-size="13" text-anchor="start" font-weight="bold" fill="#0808f6" font-family="'Liberation Sans', sans-serif" font-style="normal" >Starch</text>
<text x="235.40" y="75.20" font-size="13" text-anchor="start" font-weight="bold" fill="#0808f6" font-family="'Liberation Sans', sans-serif" font-style="normal" >Hemicellulose</text>
<text x="446.00" y="75.20" font-size="13" text-anchor="start" font-weight="bold" fill="#0808f6" font-family="'Liberation Sans', sans-serif" font-style="normal" >Pectin</text>
<text x="588.00" y="74.60" font-size="13" text-anchor="start" font-weight="bold" fill="#0808f6" font-family="'Liberation Sans', sans-serif" font-style="normal" >Cellulose</text>
<text x="730.00" y="70.80" font-size="13" text-anchor="start" font-weight="bold" fill="#0808f6" font-family="'Liberation Sans', sans-serif" font-style="normal" >Terpenes</text>
<text x="824.30" y="73.20" font-size="13" text-anchor="start" font-weight="bold" fill="#0808f6" font-family="'Liberation Sans', sans-serif" font-style="normal" >Chitin</text>
<text x="885.80" y="73.20" font-size="13" text-anchor="start" font-weight="bold" fill="#0808f6" font-family="'Liberation Sans', sans-serif" font-style="normal" >Vanillin/Lignin</text>
<text x="652.80" y="101.80" font-size="13" text-anchor="start" font-weight="bold" fill="#0808f6" font-family="'Liberation Sans', sans-serif" font-style="normal" >Phosopholipids</text>
</g>
<g id="panelC">
<text x="419.40" y="474.20" font-size="14.5" text-anchor="start" font-weight="bold" fill="#000" font-family="'Liberation Sans', sans-serif" font-style="normal" >C</text>
<line x1="521.30" y1="607.80" x2="521.30" y2="629.30" stroke="#000" stroke-width="1.7" />
<line x1="518.60" y1="608.10" x2="524.00" y2="608.10" stroke="#000" stroke-width="2.0" />
<rect x="507.95" y="629.30" width="26.7" height="71.00" fill="#be0000" stroke="#000" stroke-width="1.7"/>
<line x1="521.30" y1="700.30" x2="521.30" y2="705.30" stroke="#000" stroke-width="1.7" />
<text x="521.90" y="606.53" font-size="19" text-anchor="middle" font-weight="normal" fill="#000" font-family="'Liberation Sans', sans-serif" font-style="normal" stroke="#000" stroke-width="0.25">**</text>
<text x="526.30" y="715.80" font-size="15.5" text-anchor="end" font-weight="normal" fill="#000" font-family="'Liberation Sans', sans-serif" font-style="italic" transform="rotate(-45 526.30 715.80)" >rubisco</text>
<line x1="565.50" y1="589.00" x2="565.50" y2="609.00" stroke="#000" stroke-width="1.7" />
<line x1="562.80" y1="589.30" x2="568.20" y2="589.30" stroke="#000" stroke-width="2.0" />
<rect x="552.15" y="609.00" width="26.7" height="91.30" fill="#be0000" stroke="#000" stroke-width="1.7"/>
<line x1="565.50" y1="700.30" x2="565.50" y2="705.30" stroke="#000" stroke-width="1.7" />
<text x="566.90" y="588.33" font-size="19" text-anchor="middle" font-weight="normal" fill="#000" font-family="'Liberation Sans', sans-serif" font-style="normal" stroke="#000" stroke-width="0.25">***</text>
<text x="570.50" y="715.80" font-size="15.5" text-anchor="end" font-weight="normal" fill="#000" font-family="'Liberation Sans', sans-serif" font-style="italic" transform="rotate(-45 570.50 715.80)" >CODH</text>
<line x1="609.80" y1="555.30" x2="609.80" y2="576.00" stroke="#000" stroke-width="1.7" />
<line x1="607.10" y1="555.60" x2="612.50" y2="555.60" stroke="#000" stroke-width="2.0" />
<rect x="596.45" y="576.00" width="26.7" height="124.30" fill="#be0000" stroke="#000" stroke-width="1.7"/>
<line x1="609.80" y1="700.30" x2="609.80" y2="705.30" stroke="#000" stroke-width="1.7" />
<text x="611.60" y="554.53" font-size="19" text-anchor="middle" font-weight="normal" fill="#000" font-family="'Liberation Sans', sans-serif" font-style="normal" stroke="#000" stroke-width="0.25">***</text>
<text x="614.80" y="715.80" font-size="15.5" text-anchor="end" font-weight="normal" fill="#000" font-family="'Liberation Sans', sans-serif" font-style="italic" transform="rotate(-45 614.80 715.80)" >pcc</text>
<line x1="654.00" y1="617.60" x2="654.00" y2="651.00" stroke="#000" stroke-width="1.7" />
<line x1="651.30" y1="617.90" x2="656.70" y2="617.90" stroke="#000" stroke-width="2.0" />
<rect x="640.65" y="651.00" width="26.7" height="49.30" fill="#be0000" stroke="#000" stroke-width="1.7"/>
<line x1="654.00" y1="700.30" x2="654.00" y2="705.30" stroke="#000" stroke-width="1.7" />
<text x="659.00" y="715.80" font-size="15.5" text-anchor="end" font-weight="normal" fill="#000" font-family="'Liberation Sans', sans-serif" font-style="italic" transform="rotate(-45 659.00 715.80)" >aclB</text>
<rect x="477.3" y="496.8" width="221.7" height="203.49999999999994" fill="none" stroke="#000" stroke-width="1.7"/>
<line x1="472.80" y1="496.80" x2="477.30" y2="496.80" stroke="#000" stroke-width="1.6" />
<text x="465.70" y="501.80" font-size="16" text-anchor="end" font-weight="normal" fill="#000" font-family="'Liberation Sans', sans-serif" font-style="normal" >6</text>
<line x1="472.80" y1="564.60" x2="477.30" y2="564.60" stroke="#000" stroke-width="1.6" />
<text x="465.70" y="569.60" font-size="16" text-anchor="end" font-weight="normal" fill="#000" font-family="'Liberation Sans', sans-serif" font-style="normal" >4</text>
<line x1="472.80" y1="632.50" x2="477.30" y2="632.50" stroke="#000" stroke-width="1.6" />
<text x="465.70" y="637.50" font-size="16" text-anchor="end" font-weight="normal" fill="#000" font-family="'Liberation Sans', sans-serif" font-style="normal" >2</text>
<line x1="472.80" y1="700.30" x2="477.30" y2="700.30" stroke="#000" stroke-width="1.6" />
<text x="465.70" y="705.30" font-size="16" text-anchor="end" font-weight="normal" fill="#000" font-family="'Liberation Sans', sans-serif" font-style="normal" >0</text>
<text x="431.40" y="598.50" font-size="15.5" text-anchor="middle" font-weight="normal" fill="#000" font-family="'Liberation Sans', sans-serif" font-style="normal" transform="rotate(-90 431.40 598.50)" >Relative changes in normalized</text>
<text x="450.60" y="597.00" font-size="15.5" text-anchor="middle" font-weight="normal" fill="#000" font-family="'Liberation Sans', sans-serif" font-style="normal" transform="rotate(-90 450.60 597.00)" >signal intensity (%)</text>
</g>
<g id="panelD">
<text x="711.10" y="475.00" font-size="14.5" text-anchor="start" font-weight="bold" fill="#000" font-family="'Liberation Sans', sans-serif" font-style="normal" >D</text>
<line x1="806.00" y1="530.50" x2="806.00" y2="517.80" stroke="#000" stroke-width="1.8" />
<line x1="806.00" y1="509.60" x2="806.00" y2="498.60" stroke="#000" stroke-width="1.8" />
<line x1="803.40" y1="498.90" x2="808.60" y2="498.90" stroke="#000" stroke-width="2.0" />
<rect x="798.25" y="530.90" width="15.5" height="169.10" fill="#be0000" stroke="#000" stroke-width="1.8"/>
<line x1="806.00" y1="700.00" x2="806.00" y2="705.00" stroke="#000" stroke-width="1.8" />
<text x="811.00" y="714.00" font-size="15.5" text-anchor="end" font-weight="normal" fill="#000" font-family="'Liberation Sans', sans-serif" font-style="normal" transform="rotate(-45 811.00 714.00)" >htxA</text>
<line x1="832.80" y1="622.00" x2="832.80" y2="669.40" stroke="#000" stroke-width="1.8" />
<line x1="830.20" y1="622.30" x2="835.40" y2="622.30" stroke="#000" stroke-width="2.0" />
<rect x="825.05" y="669.80" width="15.5" height="30.20" fill="#be0000" stroke="#000" stroke-width="1.8"/>
<line x1="832.80" y1="700.00" x2="832.80" y2="705.00" stroke="#000" stroke-width="1.8" />
<text x="837.80" y="714.00" font-size="15.5" text-anchor="end" font-weight="normal" fill="#000" font-family="'Liberation Sans', sans-serif" font-style="normal" transform="rotate(-45 837.80 714.00)" >ptxD</text>
<line x1="859.60" y1="591.80" x2="859.60" y2="627.50" stroke="#000" stroke-width="1.8" />
<line x1="857.00" y1="592.10" x2="862.20" y2="592.10" stroke="#000" stroke-width="2.0" />
<rect x="851.85" y="627.90" width="15.5" height="72.10" fill="#be0000" stroke="#000" stroke-width="1.8"/>
<line x1="859.60" y1="700.00" x2="859.60" y2="705.00" stroke="#000" stroke-width="1.8" />
<text x="864.60" y="714.00" font-size="15.5" text-anchor="end" font-weight="normal" fill="#000" font-family="'Liberation Sans', sans-serif" font-style="normal" transform="rotate(-45 864.60 714.00)" >phytase</text>
<line x1="886.40" y1="649.80" x2="886.40" y2="657.30" stroke="#000" stroke-width="1.8" />
<line x1="883.80" y1="650.10" x2="889.00" y2="650.10" stroke="#000" stroke-width="2.0" />
<rect x="878.65" y="657.70" width="15.5" height="42.30" fill="#be0000" stroke="#000" stroke-width="1.8"/>
<line x1="886.40" y1="700.00" x2="886.40" y2="705.00" stroke="#000" stroke-width="1.8" />
<text x="889.90" y="644.03" font-size="19" text-anchor="middle" font-weight="normal" fill="#000" font-family="'Liberation Sans', sans-serif" font-style="normal" stroke="#000" stroke-width="0.25">***</text>
<text x="891.40" y="714.00" font-size="15.5" text-anchor="end" font-weight="normal" fill="#000" font-family="'Liberation Sans', sans-serif" font-style="normal" transform="rotate(-45 891.40 714.00)" >ppk2</text>
<line x1="913.30" y1="647.00" x2="913.30" y2="675.70" stroke="#000" stroke-width="1.8" />
<line x1="910.70" y1="647.30" x2="915.90" y2="647.30" stroke="#000" stroke-width="2.0" />
<rect x="905.55" y="676.10" width="15.5" height="23.90" fill="#be0000" stroke="#000" stroke-width="1.8"/>
<line x1="913.30" y1="700.00" x2="913.30" y2="705.00" stroke="#000" stroke-width="1.8" />
<text x="918.30" y="714.00" font-size="15.5" text-anchor="end" font-weight="normal" fill="#000" font-family="'Liberation Sans', sans-serif" font-style="normal" transform="rotate(-45 918.30 714.00)" >ppn</text>
<line x1="940.10" y1="641.00" x2="940.10" y2="650.60" stroke="#000" stroke-width="1.8" />
<line x1="937.50" y1="641.30" x2="942.70" y2="641.30" stroke="#000" stroke-width="2.0" />
<rect x="932.35" y="651.00" width="15.5" height="49.00" fill="#be0000" stroke="#000" stroke-width="1.8"/>
<line x1="940.10" y1="700.00" x2="940.10" y2="705.00" stroke="#000" stroke-width="1.8" />
<text x="945.00" y="644.03" font-size="19" text-anchor="middle" font-weight="normal" fill="#000" font-family="'Liberation Sans', sans-serif" font-style="normal" stroke="#000" stroke-width="0.25">***</text>
<text x="945.10" y="714.00" font-size="15.5" text-anchor="end" font-weight="normal" fill="#000" font-family="'Liberation Sans', sans-serif" font-style="normal" transform="rotate(-45 945.10 714.00)" >ppx</text>
<line x1="967.00" y1="642.00" x2="967.00" y2="654.00" stroke="#000" stroke-width="1.8" />
<line x1="964.40" y1="642.30" x2="969.60" y2="642.30" stroke="#000" stroke-width="2.0" />
<rect x="959.25" y="654.40" width="15.5" height="45.60" fill="#be0000" stroke="#000" stroke-width="1.8"/>
<line x1="967.00" y1="700.00" x2="967.00" y2="705.00" stroke="#000" stroke-width="1.8" />
<text x="972.30" y="644.03" font-size="19" text-anchor="middle" font-weight="normal" fill="#000" font-family="'Liberation Sans', sans-serif" font-style="normal" stroke="#000" stroke-width="0.25">***</text>
<text x="972.00" y="714.00" font-size="15.5" text-anchor="end" font-weight="normal" fill="#000" font-family="'Liberation Sans', sans-serif" font-style="normal" transform="rotate(-45 972.00 714.00)" >ppk</text>
<line x1="779.30" y1="494.30" x2="994.00" y2="494.30" stroke="#000" stroke-width="1.7" />
<line x1="778.45" y1="700.00" x2="994.85" y2="700.00" stroke="#000" stroke-width="1.7" />
<line x1="779.30" y1="493.45" x2="779.30" y2="508.60" stroke="#000" stroke-width="1.7" />
<line x1="779.30" y1="518.60" x2="779.30" y2="700.85" stroke="#000" stroke-width="1.7" />
<line x1="994.00" y1="493.45" x2="994.00" y2="508.60" stroke="#000" stroke-width="1.7" />
<line x1="994.00" y1="518.60" x2="994.00" y2="700.85" stroke="#000" stroke-width="1.7" />
<line x1="774.20" y1="514.40" x2="784.00" y2="504.80" stroke="#000" stroke-width="1.7" />
<line x1="774.20" y1="522.40" x2="784.00" y2="513.30" stroke="#000" stroke-width="1.7" />
<line x1="989.00" y1="514.40" x2="998.80" y2="504.80" stroke="#000" stroke-width="1.7" />
<line x1="989.00" y1="522.40" x2="998.80" y2="513.30" stroke="#000" stroke-width="1.7" />
<line x1="775.00" y1="494.30" x2="779.30" y2="494.30" stroke="#000" stroke-width="1.6" />
<text x="767.80" y="499.30" font-size="16" text-anchor="end" font-weight="normal" fill="#000" font-family="'Liberation Sans', sans-serif" font-style="normal" >30</text>
<text x="767.80" y="523.20" font-size="16" text-anchor="end" font-weight="normal" fill="#000" font-family="'Liberation Sans', sans-serif" font-style="normal" >8</text>
<line x1="775.00" y1="563.50" x2="779.30" y2="563.50" stroke="#000" stroke-width="1.6" />
<text x="767.80" y="568.50" font-size="16" text-anchor="end" font-weight="normal" fill="#000" font-family="'Liberation Sans', sans-serif" font-style="normal" >6</text>
<line x1="775.00" y1="609.00" x2="779.30" y2="609.00" stroke="#000" stroke-width="1.6" />
<text x="767.80" y="614.00" font-size="16" text-anchor="end" font-weight="normal" fill="#000" font-family="'Liberation Sans', sans-serif" font-style="normal" >4</text>
<line x1="775.00" y1="654.50" x2="779.30" y2="654.50" stroke="#000" stroke-width="1.6" />
<text x="767.80" y="659.50" font-size="16" text-anchor="end" font-weight="normal" fill="#000" font-family="'Liberation Sans', sans-serif" font-style="normal" >2</text>
<line x1="775.00" y1="700.00" x2="779.30" y2="700.00" stroke="#000" stroke-width="1.6" />
<text x="767.80" y="705.00" font-size="16" text-anchor="end" font-weight="normal" fill="#000" font-family="'Liberation Sans', sans-serif" font-style="normal" >0</text>
<text x="723.40" y="602.00" font-size="15.5" text-anchor="middle" font-weight="normal" fill="#000" font-family="'Liberation Sans', sans-serif" font-style="normal" transform="rotate(-90 723.40 602.00)" >Relative changes in normalized</text>
<text x="742.20" y="600.50" font-size="15.5" text-anchor="middle" font-weight="normal" fill="#000" font-family="'Liberation Sans', sans-serif" font-style="normal" transform="rotate(-90 742.20 600.50)" >signal intensity (%)</text>
</g>
<g id="panelB">
<text x="5.20" y="447.10" font-size="14.5" text-anchor="start" font-weight="bold" fill="#000" font-family="'Liberation Sans', sans-serif" font-style="normal" >B</text>
<path d="M54.60 561.50 Q51.70 533.20 72.51 503.43" fill="none" stroke="#4a74b0" stroke-width="3.4" stroke-linecap="round"/>
<path d="M71.79 513.91 L72.51 503.43 L62.92 507.71" fill="none" stroke="#4a74b0" stroke-width="3.4" stroke-linecap="round" stroke-linejoin="miter"/>
<path d="M98.80 472.80 Q124.10 445.20 162.41 442.67" fill="none" stroke="#4a74b0" stroke-width="3.4" stroke-linecap="round"/>
<path d="M153.78 448.66 L162.41 442.67 L153.07 437.87" fill="none" stroke="#4a74b0" stroke-width="3.4" stroke-linecap="round" stroke-linejoin="miter"/>
<path d="M195.70 443.30 Q243.30 450.75 260.89 473.16" fill="none" stroke="#4a74b0" stroke-width="3.4" stroke-linecap="round"/>
<path d="M251.08 469.42 L260.89 473.16 L259.59 462.74" fill="none" stroke="#4a74b0" stroke-width="3.4" stroke-linecap="round" stroke-linejoin="miter"/>
<path d="M280.40 496.80 Q303.30 529.20 303.76 562.30" fill="none" stroke="#4a74b0" stroke-width="3.4" stroke-linecap="round"/>
<path d="M298.23 553.38 L303.76 562.30 L309.04 553.23" fill="none" stroke="#4a74b0" stroke-width="3.4" stroke-linecap="round" stroke-linejoin="miter"/>
<path d="M302.20 597.00 Q300.80 623.40 285.88 641.02" fill="none" stroke="#4a74b0" stroke-width="3.4" stroke-linecap="round"/>
<path d="M287.57 630.65 L285.88 641.02 L295.82 637.64" fill="none" stroke="#4a74b0" stroke-width="3.4" stroke-linecap="round" stroke-linejoin="miter"/>
<path d="M265.10 668.80 Q242.20 697.50 205.99 701.14" fill="none" stroke="#4a74b0" stroke-width="3.4" stroke-linecap="round"/>
<path d="M214.40 694.86 L205.99 701.14 L215.48 705.62" fill="none" stroke="#4a74b0" stroke-width="3.4" stroke-linecap="round" stroke-linejoin="miter"/>
<path d="M157.20 702.50 Q120.80 696.30 101.79 676.29" fill="none" stroke="#4a74b0" stroke-width="3.4" stroke-linecap="round"/>
<path d="M111.91 679.09 L101.79 676.29 L104.07 686.54" fill="none" stroke="#4a74b0" stroke-width="3.4" stroke-linecap="round" stroke-linejoin="miter"/>
<path d="M76.40 647.50 Q59.30 625.60 56.81 595.09" fill="none" stroke="#4a74b0" stroke-width="3.4" stroke-linecap="round"/>
<path d="M62.93 603.62 L56.81 595.09 L52.15 604.50" fill="none" stroke="#4a74b0" stroke-width="3.4" stroke-linecap="round" stroke-linejoin="miter"/>
<path d="M181.50 690.20 Q181.50 639.10 181.50 590.60" fill="none" stroke="#4a74b0" stroke-width="3.4" stroke-linecap="round"/>
<path d="M186.91 599.60 L181.50 590.60 L176.09 599.60" fill="none" stroke="#4a74b0" stroke-width="3.4" stroke-linecap="round" stroke-linejoin="miter"/>
<path d="M187.60 689.00 Q205.05 648.00 221.48 609.39" fill="none" stroke="#4a74b0" stroke-width="3.4" stroke-linecap="round"/>
<path d="M222.93 619.79 L221.48 609.39 L212.98 615.56" fill="none" stroke="#4a74b0" stroke-width="3.4" stroke-linecap="round" stroke-linejoin="miter"/>
<path d="M187.60 561.00 Q222.70 529.40 255.87 499.54" fill="none" stroke="#4a74b0" stroke-width="3.4" stroke-linecap="round"/>
<path d="M252.80 509.58 L255.87 499.54 L245.56 501.54" fill="none" stroke="#4a74b0" stroke-width="3.4" stroke-linecap="round" stroke-linejoin="miter"/>
<path d="M234.80 578.40 Q251.65 539.65 267.46 503.28" fill="none" stroke="#4a74b0" stroke-width="3.4" stroke-linecap="round"/>
<path d="M268.83 513.69 L267.46 503.28 L258.91 509.38" fill="none" stroke="#4a74b0" stroke-width="3.4" stroke-linecap="round" stroke-linejoin="miter"/>
<path d="M297.70 658.00 Q310.05 658.00 319.80 658.00" fill="none" stroke="#4a74b0" stroke-width="3.4" stroke-linecap="round"/>
<path d="M312.94 662.12 L319.80 658.00 L312.94 653.88" fill="none" stroke="#4a74b0" stroke-width="3.4" stroke-linecap="round" stroke-linejoin="miter"/>
<path d="M337.50 672.20 Q337.50 680.60 337.50 686.40" fill="none" stroke="#4a74b0" stroke-width="3.4" stroke-linecap="round"/>
<path d="M333.38 679.54 L337.50 686.40 L341.62 679.54" fill="none" stroke="#4a74b0" stroke-width="3.4" stroke-linecap="round" stroke-linejoin="miter"/>
<line x1="303.30" y1="480.60" x2="347.50" y2="480.60" stroke="#4a74b0" stroke-width="1.7" />
<path d="M343.70 483.20 L348.20 480.60 L343.70 478.00" fill="none" stroke="#4a74b0" stroke-width="1.5" stroke-linecap="round" stroke-linejoin="miter"/>
<line x1="305.50" y1="486.70" x2="349.40" y2="486.70" stroke="#4a74b0" stroke-width="1.7" />
<path d="M309.30 484.10 L304.80 486.70 L309.30 489.30" fill="none" stroke="#4a74b0" stroke-width="1.5" stroke-linecap="round" stroke-linejoin="miter"/>
<line x1="100.00" y1="648.60" x2="178.20" y2="454.40" stroke="#4a74b0" stroke-width="1.5" stroke-dasharray="5.6 3.4"/>
<path d="M178.98 458.75 L178.30 454.00 L174.52 456.96" fill="none" stroke="#4a74b0" stroke-width="1.4" stroke-linecap="round" stroke-linejoin="miter"/>
<line x1="170.40" y1="473.00" x2="255.00" y2="485.00" stroke="#4a74b0" stroke-width="1.5" stroke-dasharray="5.6 3.4"/>
<line x1="358.40" y1="703.60" x2="372.00" y2="703.60" stroke="#4a74b0" stroke-width="1.5" stroke-dasharray="3.6 2.2"/>
<path d="M373.04 705.83 L376.60 703.60 L373.04 701.37" fill="none" stroke="#4a74b0" stroke-width="1.4" stroke-linecap="round" stroke-linejoin="miter"/>
<text x="170.50" y="445.80" font-size="14" text-anchor="start" font-weight="bold" fill="#000" font-family="'Liberation Sans', sans-serif" font-style="normal" >N<tspan font-size="9.5" dy="3">2</tspan><tspan dy="-3" font-size="1">&#8203;</tspan></text>
<text x="72.80" y="493.70" font-size="14" text-anchor="start" font-weight="bold" fill="#000" font-family="'Liberation Sans', sans-serif" font-style="normal" >N<tspan font-size="9.5" dy="3">2</tspan><tspan dy="-3" font-size="1">&#8203;</tspan>O</text>
<text x="43.60" y="584.30" font-size="14" text-anchor="start" font-weight="bold" fill="#000" font-family="'Liberation Sans', sans-serif" font-style="normal" >NO</text>
<text x="72.80" y="667.00" font-size="14" text-anchor="start" font-weight="bold" fill="#000" font-family="'Liberation Sans', sans-serif" font-style="normal" >NO<tspan font-size="9.5" dy="3">2</tspan><tspan dy="-3" font-size="1">&#8203;</tspan></text>
<text x="98.50" y="660.50" font-size="11" text-anchor="start" font-weight="bold" fill="#000" font-family="'Liberation Sans', sans-serif" font-style="normal" >-</text>
<text x="166.00" y="707.50" font-size="14" text-anchor="start" font-weight="bold" fill="#000" font-family="'Liberation Sans', sans-serif" font-style="normal" >NO<tspan font-size="9.5" dy="3">3</tspan><tspan dy="-3" font-size="1">&#8203;</tspan></text>
<text x="191.70" y="701.00" font-size="11" text-anchor="start" font-weight="bold" fill="#000" font-family="'Liberation Sans', sans-serif" font-style="normal" >-</text>
<text x="172.80" y="578.40" font-size="14" text-anchor="start" font-weight="bold" fill="#000" font-family="'Liberation Sans', sans-serif" font-style="normal" >NO<tspan font-size="9.5" dy="3">2</tspan><tspan dy="-3" font-size="1">&#8203;</tspan></text>
<text x="198.50" y="571.90" font-size="11" text-anchor="start" font-weight="bold" fill="#000" font-family="'Liberation Sans', sans-serif" font-style="normal" >-</text>
<text x="217.80" y="598.00" font-size="14" text-anchor="start" font-weight="bold" fill="#000" font-family="'Liberation Sans', sans-serif" font-style="normal" >NO<tspan font-size="9.5" dy="3">2</tspan><tspan dy="-3" font-size="1">&#8203;</tspan></text>
<text x="243.50" y="591.50" font-size="11" text-anchor="start" font-weight="bold" fill="#000" font-family="'Liberation Sans', sans-serif" font-style="normal" >-</text>
<text x="263.40" y="662.50" font-size="14" text-anchor="start" font-weight="bold" fill="#000" font-family="'Liberation Sans', sans-serif" font-style="normal" >NO<tspan font-size="9.5" dy="3">2</tspan><tspan dy="-3" font-size="1">&#8203;</tspan></text>
<text x="289.10" y="656.00" font-size="11" text-anchor="start" font-weight="bold" fill="#000" font-family="'Liberation Sans', sans-serif" font-style="normal" >-</text>
<text x="263.40" y="490.00" font-size="14" text-anchor="start" font-weight="bold" fill="#000" font-family="'Liberation Sans', sans-serif" font-style="normal" >NH<tspan font-size="9.5" dy="3">4</tspan><tspan dy="-3" font-size="1">&#8203;</tspan></text>
<text x="289.30" y="484.60" font-size="8" text-anchor="start" font-weight="bold" fill="#000" font-family="'Liberation Sans', sans-serif" font-style="normal" >+</text>
<text x="283.40" y="582.80" font-size="14" text-anchor="start" font-weight="bold" fill="#000" font-family="'Liberation Sans', sans-serif" font-style="normal" >NH<tspan font-size="9.5" dy="3">2</tspan><tspan dy="-3" font-size="1">&#8203;</tspan>OH</text>
<text x="355.80" y="488.50" font-size="14" text-anchor="start" font-weight="bold" fill="#000" font-family="'Liberation Sans', sans-serif" font-style="normal" >Org N</text>
<text x="327.40" y="663.20" font-size="14" text-anchor="start" font-weight="bold" fill="#000" font-family="'Liberation Sans', sans-serif" font-style="normal" >NO</text>
<text x="327.40" y="708.00" font-size="14" text-anchor="start" font-weight="bold" fill="#000" font-family="'Liberation Sans', sans-serif" font-style="normal" >N<tspan font-size="9.5" dy="3">2</tspan><tspan dy="-3" font-size="1">&#8203;</tspan>O</text>
<text x="383.00" y="708.00" font-size="14" text-anchor="start" font-weight="bold" fill="#000" font-family="'Liberation Sans', sans-serif" font-style="normal" >N<tspan font-size="9.5" dy="3">2</tspan><tspan dy="-3" font-size="1">&#8203;</tspan></text>
<text x="89.80" y="446.60" font-size="11" text-anchor="start" font-weight="normal" fill="#e82222" font-family="'Liberation Sans', sans-serif" font-style="normal" >nosZ<tspan letter-spacing="1.0" font-size="12" dy="0.8">***</tspan></text>
<text x="78.60" y="458.60" font-size="11.1" text-anchor="start" font-weight="normal" fill="#000" font-family="'Liberation Serif', serif" font-style="normal" stroke="#000" stroke-width="0.2">(1.53%)</text>
<text x="65.00" y="547.00" font-size="11" text-anchor="start" font-weight="normal" fill="#e82222" font-family="'Liberation Sans', sans-serif" font-style="normal" >norB<tspan letter-spacing="1.0" font-size="12" dy="0.8">**</tspan></text>
<text x="63.00" y="559.70" font-size="11.1" text-anchor="start" font-weight="normal" fill="#000" font-family="'Liberation Serif', serif" font-style="normal" stroke="#000" stroke-width="0.2">(2.62%)</text>
<text x="23.60" y="639.20" font-size="11" text-anchor="start" font-weight="normal" fill="#e82222" font-family="'Liberation Sans', sans-serif" font-style="normal" >nirS/K<tspan letter-spacing="1.0" font-size="12" dy="0.8">**</tspan></text>
<text x="29.20" y="653.10" font-size="11.1" text-anchor="start" font-weight="normal" fill="#000" font-family="'Liberation Serif', serif" font-style="normal" stroke="#000" stroke-width="0.2">(2.45%)</text>
<text x="102.20" y="715.60" font-size="11" text-anchor="start" font-weight="normal" fill="#e82222" font-family="'Liberation Sans', sans-serif" font-style="normal" >narG<tspan letter-spacing="1.0" font-size="12" dy="0.8">***</tspan></text>
<text x="102.20" y="728.40" font-size="11.1" text-anchor="start" font-weight="normal" fill="#000" font-family="'Liberation Serif', serif" font-style="normal" stroke="#000" stroke-width="0.2">(3.09%)</text>
<text x="135.90" y="637.40" font-size="11" text-anchor="start" font-weight="normal" fill="#e82222" font-family="'Liberation Sans', sans-serif" font-style="normal" >napA<tspan letter-spacing="1.0" font-size="12" dy="0.8">***</tspan></text>
<text x="135.90" y="652.00" font-size="11.1" text-anchor="start" font-weight="normal" fill="#000" font-family="'Liberation Serif', serif" font-style="normal" stroke="#000" stroke-width="0.2">(1.64%)</text>
<text x="179.70" y="533.40" font-size="11" text-anchor="start" font-weight="normal" fill="#e82222" font-family="'Liberation Sans', sans-serif" font-style="normal" >nrfA<tspan letter-spacing="1.0" font-size="12" dy="0.8">*</tspan></text>
<text x="166.70" y="545.80" font-size="11.1" text-anchor="start" font-weight="normal" fill="#000" font-family="'Liberation Serif', serif" font-style="normal" stroke="#000" stroke-width="0.2">(1.72%)</text>
<text x="233.20" y="447.00" font-size="11" text-anchor="start" font-weight="normal" fill="#e82222" font-family="'Liberation Sans', sans-serif" font-style="normal" >nifH<tspan letter-spacing="1.0" font-size="12" dy="0.8">***</tspan></text>
<text x="251.70" y="458.60" font-size="11.1" text-anchor="start" font-weight="normal" fill="#000" font-family="'Liberation Serif', serif" font-style="normal" stroke="#000" stroke-width="0.2">(2.86%)</text>
<text x="214.00" y="652.70" font-size="11" text-anchor="start" font-weight="normal" fill="#e82222" font-family="'Liberation Sans', sans-serif" font-style="normal" >nasA<tspan letter-spacing="1.0" font-size="12" dy="0.8">**</tspan></text>
<text x="208.50" y="666.00" font-size="11.1" text-anchor="start" font-weight="normal" fill="#000" font-family="'Liberation Serif', serif" font-style="normal" stroke="#000" stroke-width="0.2">(1.20%)</text>
<text x="251.70" y="563.80" font-size="13" text-anchor="start" font-weight="bold" fill="#e82222" font-family="'Liberation Sans', sans-serif" font-style="normal" >nir<tspan letter-spacing="0.3" font-size="14" dy="0.8">*</tspan></text>
<text x="242.70" y="577.20" font-size="11.1" text-anchor="start" font-weight="normal" fill="#000" font-family="'Liberation Serif', serif" font-style="normal" stroke="#000" stroke-width="0.2">(2.30%)</text>
<text x="309.00" y="502.00" font-size="13" text-anchor="start" font-weight="bold" fill="#e82222" font-family="'Liberation Sans', sans-serif" font-style="normal" >ureC<tspan letter-spacing="0.3" font-size="14" dy="0.8">***</tspan></text>
<text x="310.50" y="514.80" font-size="11.1" text-anchor="start" font-weight="normal" fill="#000" font-family="'Liberation Serif', serif" font-style="normal" stroke="#000" stroke-width="0.2">(3.20%)</text>
<text x="310.00" y="648.60" font-size="13" text-anchor="start" font-weight="bold" fill="#e82222" font-family="'Liberation Sans', sans-serif" font-style="normal" >nirK-N<tspan letter-spacing="0.3" font-size="14" dy="0.8">**</tspan></text>
<text x="324.70" y="634.70" font-size="11.1" text-anchor="start" font-weight="normal" fill="#000" font-family="'Liberation Serif', serif" font-style="normal" stroke="#000" stroke-width="0.2">(2.34%)</text>
<text x="115.70" y="541.30" font-size="12" text-anchor="start" font-weight="bold" fill="#b39ccc" font-family="'Liberation Sans', sans-serif" font-style="italic" >hzo</text>
<text x="302.20" y="622.00" font-size="12" text-anchor="start" font-weight="bold" fill="#a48fc4" font-family="'Liberation Sans', sans-serif" font-style="italic" >hao</text>
<text x="317.30" y="472.80" font-size="13" text-anchor="start" font-weight="bold" fill="#b9addb" font-family="'Liberation Sans', sans-serif" font-style="normal" >gdh</text>
<text x="309.20" y="530.00" font-size="13.8" text-anchor="start" font-weight="normal" fill="#a9a9f2" font-family="'Liberation Serif', serif" font-style="normal" >amoA</text>
<text x="245.60" y="702.50" font-size="14.5" text-anchor="start" font-weight="normal" fill="#b4b2f0" font-family="'Liberation Serif', serif" font-style="normal" >nor</text>
<text x="350.00" y="686.80" font-size="13.4" text-anchor="start" font-weight="normal" fill="#a6aef0" font-family="'Liberation Sans', sans-serif" font-style="normal" >norB-N</text>
<text x="347.00" y="730.60" font-size="13.4" text-anchor="start" font-weight="normal" fill="#a6aef0" font-family="'Liberation Sans', sans-serif" font-style="normal" >nosZ-N</text>
</g>
</svg>
</body></html>
